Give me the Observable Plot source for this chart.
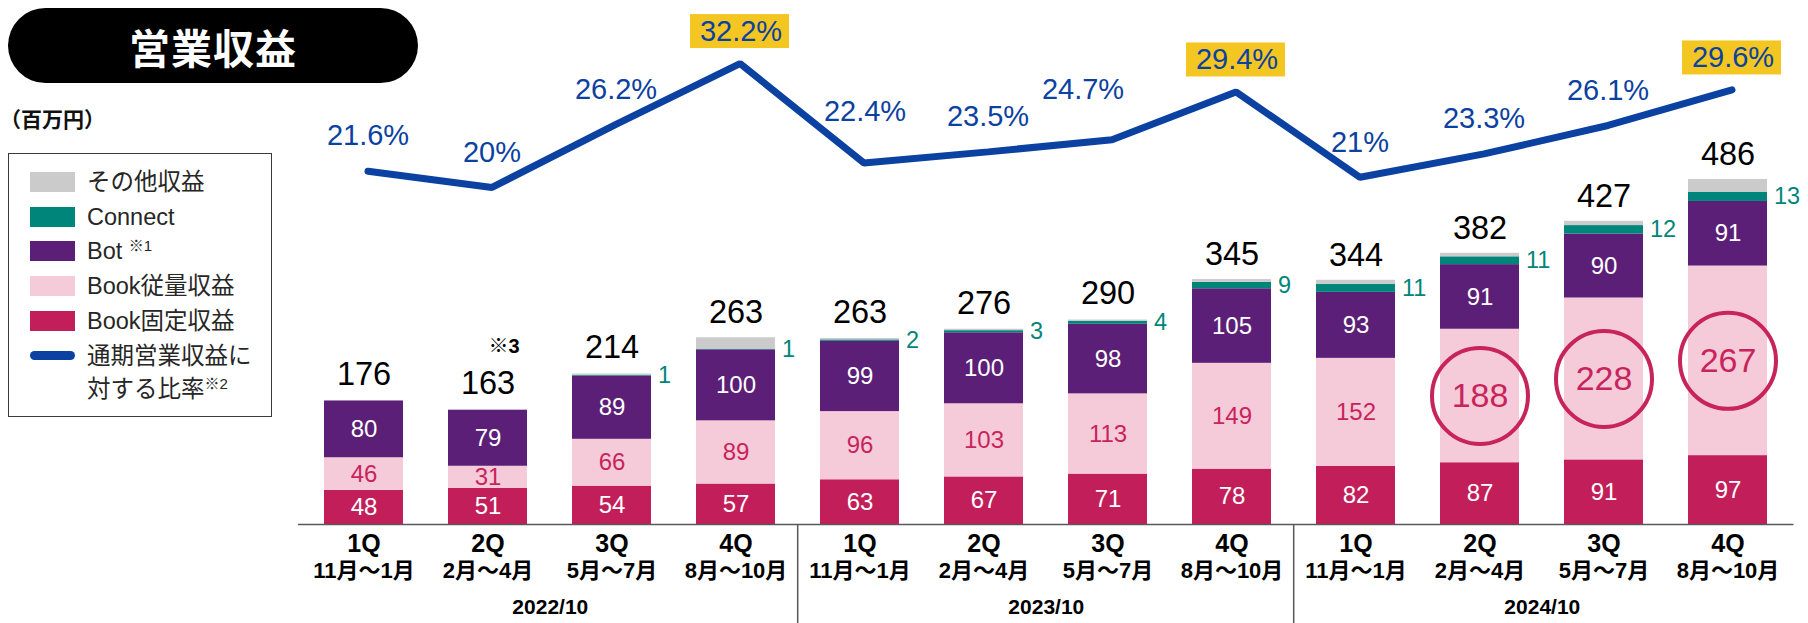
<!DOCTYPE html>
<html>
<head>
<meta charset="utf-8">
<script src="https://cdn.jsdelivr.net/npm/d3@7"></script>
<script src="https://cdn.jsdelivr.net/npm/@observablehq/plot@0.6"></script>
<style>
  body { margin: 0; background: #fff; font-family: "Liberation Sans", "Noto Sans CJK JP", sans-serif; }
  #wrap { position: relative; width: 1808px; height: 623px; overflow: hidden; background: #fff; }
  #chart { position: absolute; left: 0; top: 0; }
  .pill { position: absolute; left: 8px; top: 8px; width: 410px; height: 75px; border-radius: 37.5px; background: #000;
          color: #fff; font-weight: bold; font-size: 41px; display: flex; align-items: center; justify-content: center;
          font-family: "Noto Sans CJK JP", sans-serif; letter-spacing: 1px; }
  .unit { position: absolute; left: 0px; top: 104px; font-size: 21px; font-weight: bold; color: #111;
          font-family: "Noto Sans CJK JP", sans-serif; line-height: 28px; }
  .legend { position: absolute; left: 8px; top: 153px; width: 264px; height: 264px; border: 1.5px solid #3a3a3a; box-sizing: border-box; }
  .sw { position: absolute; left: 30px; width: 45px; height: 20px; }
  .lt { position: absolute; left: 87px; height: 30px; line-height: 30px; font-size: 23.5px; color: #262626; white-space: nowrap;
        font-family: "Liberation Sans", "Noto Sans CJK JP", sans-serif; }
  .sup { font-size: 15px; position: relative; top: -8px; }
</style>
</head>
<body>
<div id="wrap">
  <div id="chart"></div>
  <div class="pill">営業収益</div>
  <div class="unit">（百万円）</div>
  <div class="legend"></div>
  <div id="legendItems"></div>
</div>
<script>
// ---- data ----
const fiscalYears = ["2022/10", "2023/10", "2024/10"];
const quarters = ["1Q", "2Q", "3Q", "4Q"];
const monthRanges = ["11月～1月", "2月～4月", "5月～7月", "8月～10月"];

const seriesNames = ["Book固定収益", "Book従量収益", "Bot", "Connect", "その他収益"];
const seriesColors = ["#c21e59", "#f6cbd9", "#5b1f77", "#00857a", "#cbcbcb"];

const bookFixed  = [48, 51, 54, 57, 63, 67, 71, 78, 82, 87, 91, 97];
const bookVolume = [46, 31, 66, 89, 96, 103, 113, 149, 152, 188, 228, 267];
const bot        = [80, 79, 89, 100, 99, 100, 98, 105, 93, 91, 90, 91];
const connect    = [0, 0, 1, 1, 2, 3, 4, 9, 11, 11, 12, 13];
const other      = [0, 0, 2, 16, 2, 2, 2, 4, 6, 5, 6, 18];
const totals     = [176, 163, 214, 263, 263, 276, 290, 345, 344, 382, 427, 486];
const ratio      = [21.6, 20, 26.2, 32.2, 22.4, 23.5, 24.7, 29.4, 21, 23.3, 26.1, 29.6];

// ---- build rows ----
const rows = [];
fiscalYears.forEach((fy, gi) => quarters.forEach((q, qi) => {
  const i = gi * 4 + qi;
  rows.push({
    key: fy + " " + q, fy, quarter: q, months: monthRanges[qi],
    values: [bookFixed[i], bookVolume[i], bot[i], connect[i], other[i]],
    total: totals[i], ratio: ratio[i], ratioLabel: ratio[i] + "%"
  });
}));
const segments = rows.flatMap(r => {
  let acc = 0;
  return seriesNames.map((s, j) => {
    const v = r.values[j];
    const seg = {key: r.key, fy: r.fy, quarter: r.quarter, series: s, value: v, y1: acc, y2: acc + v, mid: acc + v / 2};
    acc += v;
    return seg;
  });
});

// ---- layout ----
const W = 1808, H = 623, ML = 298, MR = 14.5, MT = 27, MB = 99;
const step = (W - ML - MR) / 12;
const pxPerUnit = (H - MT - MB) / 700;
// secondary (ratio %) axis expressed in bar units
const ratioY = r => (r + 13.2) * 14.3;
const px = p => p / pxPerUnit; // pixel offset -> bar units

const blue = "#0b41a0", crimson = "#c8245c", teal = "#00857a";
const isCircled = d => d.fy === "2024/10" && d.quarter !== "1Q";
const nudged = new Set(["2023/10 1Q", "2023/10 3Q"]);

const chart = Plot.plot({
  width: W, height: H,
  marginLeft: ML, marginRight: MR, marginTop: MT, marginBottom: MB,
  x: {domain: rows.map(r => r.key), paddingInner: 0.366, paddingOuter: 0.183, axis: null},
  y: {domain: [0, 700], axis: null},
  color: {domain: seriesNames, range: seriesColors},
  style: {fontFamily: "'Liberation Sans', Arial, 'Noto Sans CJK JP', sans-serif", fontSize: "10px", background: "white", overflow: "visible"},
  marks: [
    Plot.barY(segments.filter(d => d.value > 0), {x: "key", y1: "y1", y2: "y2", fill: "series"}),
    Plot.ruleY([0], {stroke: "#595959", strokeWidth: 1.5}),
    Plot.ruleX(rows.filter(r => r.quarter === "1Q" && r.fy !== "2022/10"),
      {x: "key", dx: -step / 2, y1: 0, y2: -px(100), stroke: "#595959", strokeWidth: 1.5}),
    // segment labels
    Plot.text(segments.filter(d => d.series === "Book固定収益" || d.series === "Bot"),
      {x: "key", y: "mid", text: d => String(d.value), fill: "white", fontSize: 24}),
    Plot.text(segments.filter(d => d.series === "Book従量収益" && !isCircled(d)),
      {x: "key", y: "mid", text: d => String(d.value), fill: crimson, fontSize: 24}),
    Plot.dot(segments.filter(d => d.series === "Book従量収益" && isCircled(d)),
      {x: "key", y: "mid", r: 48, fill: "none", stroke: crimson, strokeWidth: 4}),
    Plot.text(segments.filter(d => d.series === "Book従量収益" && isCircled(d)),
      {x: "key", y: "mid", text: d => String(d.value), fill: crimson, fontSize: 34}),
    Plot.text(segments.filter(d => d.series === "Connect" && d.value > 0),
      {x: "key", y: "mid", text: d => String(d.value), fill: teal, fontSize: 23.5, textAnchor: "start", dx: 46}),
    // totals
    Plot.text(rows, {x: "key", y: "total", text: d => String(d.total), dy: -25, fontSize: 32.5, fill: "#000"}),
    Plot.text(rows.filter(r => r.key === "2022/10 2Q"),
      {x: "key", y: "total", text: () => "※3", dx: 16, dy: -62, fontSize: 20, fontWeight: "bold", fill: "#000"}),
    // ratio line
    Plot.line(rows, {x: "key", y: d => ratioY(d.ratio), stroke: blue, strokeWidth: 7, strokeLinecap: "round", strokeLinejoin: "miter", dx: 4}),
    Plot.barY(rows.filter(r => r.quarter === "4Q"),
      {x: "key", y1: d => ratioY(d.ratio) + px(32) - px(17), y2: d => ratioY(d.ratio) + px(32) + px(17),
       fill: "#f4c622", insetLeft: -6, insetRight: -14}),
    Plot.text(rows.filter(r => r.quarter === "4Q"),
      {x: "key", y: d => ratioY(d.ratio), text: "ratioLabel", dy: -32, dx: 5, fontSize: 29, fill: blue}),
    Plot.text(rows.filter(r => r.quarter !== "4Q" && !nudged.has(r.key)),
      {x: "key", y: d => ratioY(d.ratio), text: "ratioLabel", dy: -35, dx: 4, fontSize: 29, fill: blue}),
    Plot.text(rows.filter(r => r.key === "2023/10 1Q"),
      {x: "key", y: d => ratioY(d.ratio), text: "ratioLabel", dy: -51, dx: 5, fontSize: 29, fill: blue}),
    Plot.text(rows.filter(r => r.key === "2023/10 3Q"),
      {x: "key", y: d => ratioY(d.ratio), text: "ratioLabel", dy: -50, dx: -25, fontSize: 29, fill: blue}),
    // category labels
    Plot.text(rows, {x: "key", text: "quarter", frameAnchor: "bottom", dy: 27, fontSize: 25, fontWeight: "bold", fill: "#000"}),
    Plot.text(rows, {x: "key", text: "months", frameAnchor: "bottom", dy: 53, fontSize: 22, fontWeight: "bold", fill: "#000"}),
    Plot.text(rows.filter(r => r.quarter === "2Q"),
      {x: "key", text: "fy", frameAnchor: "bottom", dx: step / 2, dy: 89, fontSize: 21, fontWeight: "bold", fill: "#000"})
  ]
});
document.getElementById("chart").appendChild(chart);

// ---- legend ----
const legendRows = [
  {label: "その他収益", color: seriesColors[4]},
  {label: "Connect", color: seriesColors[3]},
  {label: "Bot", sup: "※1", color: seriesColors[2]},
  {label: "Book従量収益", color: seriesColors[1]},
  {label: "Book固定収益", color: seriesColors[0]},
  {label: "通期営業収益に", color: blue, line: true}
];
const li = document.getElementById("legendItems");
const rowTop = 181.7, rowGap = 34.8;
legendRows.forEach((r, i) => {
  const cy = rowTop + i * rowGap;
  const sw = document.createElement("div");
  sw.className = "sw";
  sw.style.background = r.color;
  if (r.line) { sw.style.height = "9px"; sw.style.top = (cy - 4.5) + "px"; sw.style.borderRadius = "4.5px"; }
  else sw.style.top = (cy - 10) + "px";
  li.appendChild(sw);
  const t = document.createElement("div");
  t.className = "lt";
  t.style.top = (cy - 15) + "px";
  t.innerHTML = r.label + (r.sup ? ' <span class="sup">' + r.sup + '</span>' : "");
  li.appendChild(t);
});
const t2 = document.createElement("div");
t2.className = "lt";
t2.style.top = (rowTop + 6 * rowGap - 2 - 15) + "px";
t2.innerHTML = '対する比率<span class="sup">※2</span>';
li.appendChild(t2);
</script>
</body>
</html>
